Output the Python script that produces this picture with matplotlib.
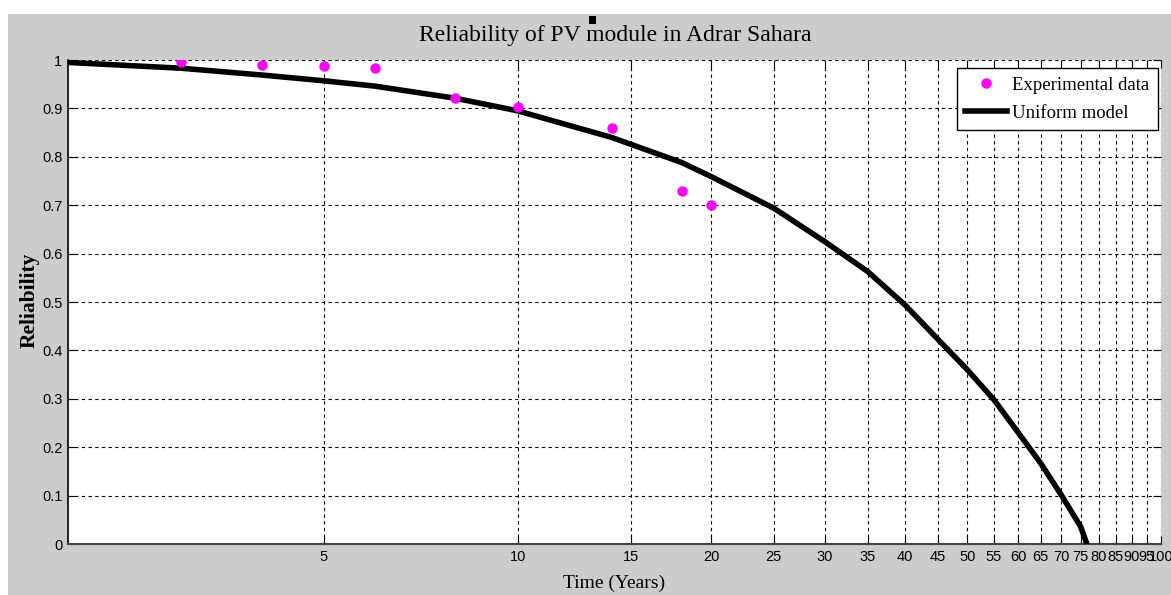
import matplotlib
matplotlib.use("Agg")
import matplotlib.pyplot as plt
from matplotlib.patches import Rectangle
from matplotlib.ticker import FixedLocator, NullLocator, FixedFormatter

# ---- data ----
exp_time = [3, 4, 5, 6, 8, 10, 14, 18, 20]
exp_rel = [0.995, 0.990, 0.987, 0.983, 0.922, 0.903, 0.860, 0.730, 0.700]

model_time = [2, 3, 4, 5, 6, 8, 10, 14, 18, 20, 25, 30, 35, 40, 45, 50, 55, 60, 65, 70, 75, 76.7]
model_rel = [0.995, 0.983, 0.969, 0.957, 0.946, 0.921, 0.895, 0.840, 0.788, 0.759, 0.694,
             0.625, 0.563, 0.494, 0.423, 0.360, 0.298, 0.230, 0.167, 0.101, 0.036, 0.0]

x_ticks = [5, 10, 15, 20, 25, 30, 35, 40, 45, 50, 55, 60, 65, 70, 75, 80, 85, 90, 95, 100]
y_ticks = [0, 0.1, 0.2, 0.3, 0.4, 0.5, 0.6, 0.7, 0.8, 0.9, 1.0]
y_tick_labels = ["0", "0.1", "0.2", "0.3", "0.4", "0.5", "0.6", "0.7", "0.8", "0.9", "1"]

title = "Reliability of PV module in Adrar Sahara"
xlabel = "Time (Years)"
ylabel = "Reliability"

W, H = 1171, 595
fig = plt.figure(figsize=(W / 100, H / 100), dpi=100)
fig.patch.set_facecolor("white")
fig.patches.append(Rectangle((8 / W, 0), 1 - 8 / W, 1 - 14 / H, transform=fig.transFigure,
                             facecolor="#cccccc", edgecolor="none", zorder=-10))
# small black square artifact above title
fig.patches.append(Rectangle((589 / W, 1 - 24 / H), 7 / W, 8 / H, transform=fig.transFigure,
                             facecolor="black", edgecolor="none", zorder=5))

ax = fig.add_axes([68 / W, 1 - 544 / H, (1161 - 68) / W, (544 - 60) / H])
ax.set_facecolor("white")
ax.set_zorder(1)

serif = ["Liberation Serif", "DejaVu Serif"]
narrow = ["Liberation Sans Narrow", "Liberation Sans", "DejaVu Sans"]

ax.set_xscale("log")
ax.set_xlim(2, 100)
ax.set_ylim(0, 1)

ax.plot(exp_time, exp_rel, linestyle="none", marker="o", markersize=6.5,
        color="#ff00ff", markeredgecolor="#ff00ff", label="Experimental data", zorder=4)
ax.plot(model_time, model_rel, color="black", linewidth=4, label="Uniform model",
        solid_joinstyle="miter", zorder=3)

ax.xaxis.set_major_locator(FixedLocator(x_ticks))
ax.xaxis.set_major_formatter(FixedFormatter([str(v) for v in x_ticks]))
ax.xaxis.set_minor_locator(NullLocator())
ax.set_yticks(y_ticks)
ax.set_yticklabels(y_tick_labels)

ax.grid(True, which="major", color="black", linestyle=(0, (3, 3)), linewidth=0.8)
ax.tick_params(axis="both", which="major", direction="in", length=6, width=0.8,
               top=True, right=True, labelsize=10.5, pad=4, colors="black")
for lab in ax.get_xticklabels() + ax.get_yticklabels():
    lab.set_family(narrow)

for s in ["top", "right"]:
    ax.spines[s].set_visible(False)
ax.spines["left"].set_color("black")
ax.spines["left"].set_linewidth(1.2)
ax.spines["bottom"].set_color("#444444")
ax.spines["bottom"].set_linewidth(1.5)

fig.text(615 / W, 1 - 36 / H, title, ha="center", va="center", fontsize=17,
         family=serif, color="black")
ax.set_xlabel(xlabel, fontsize=14, family=serif)
ax.xaxis.set_label_coords(0.5, -0.082)
ax.xaxis.label.set_va("center")
ax.set_ylabel(ylabel, fontsize=15.5, family=serif, fontweight="bold")
ax.yaxis.set_label_coords(-0.035, 0.504)
ax.yaxis.label.set_va("center")

leg = ax.legend(loc="upper right", bbox_to_anchor=((1158 - 68) / 1093, (544 - 68) / 484),
                borderaxespad=0, fancybox=False, framealpha=1, edgecolor="black",
                prop={"family": serif, "size": 13.5}, handlelength=2.2, handletextpad=0.3,
                borderpad=0.45, labelspacing=0.6)
leg.get_frame().set_linewidth(1.0)

fig.savefig("out.png", dpi=100)
